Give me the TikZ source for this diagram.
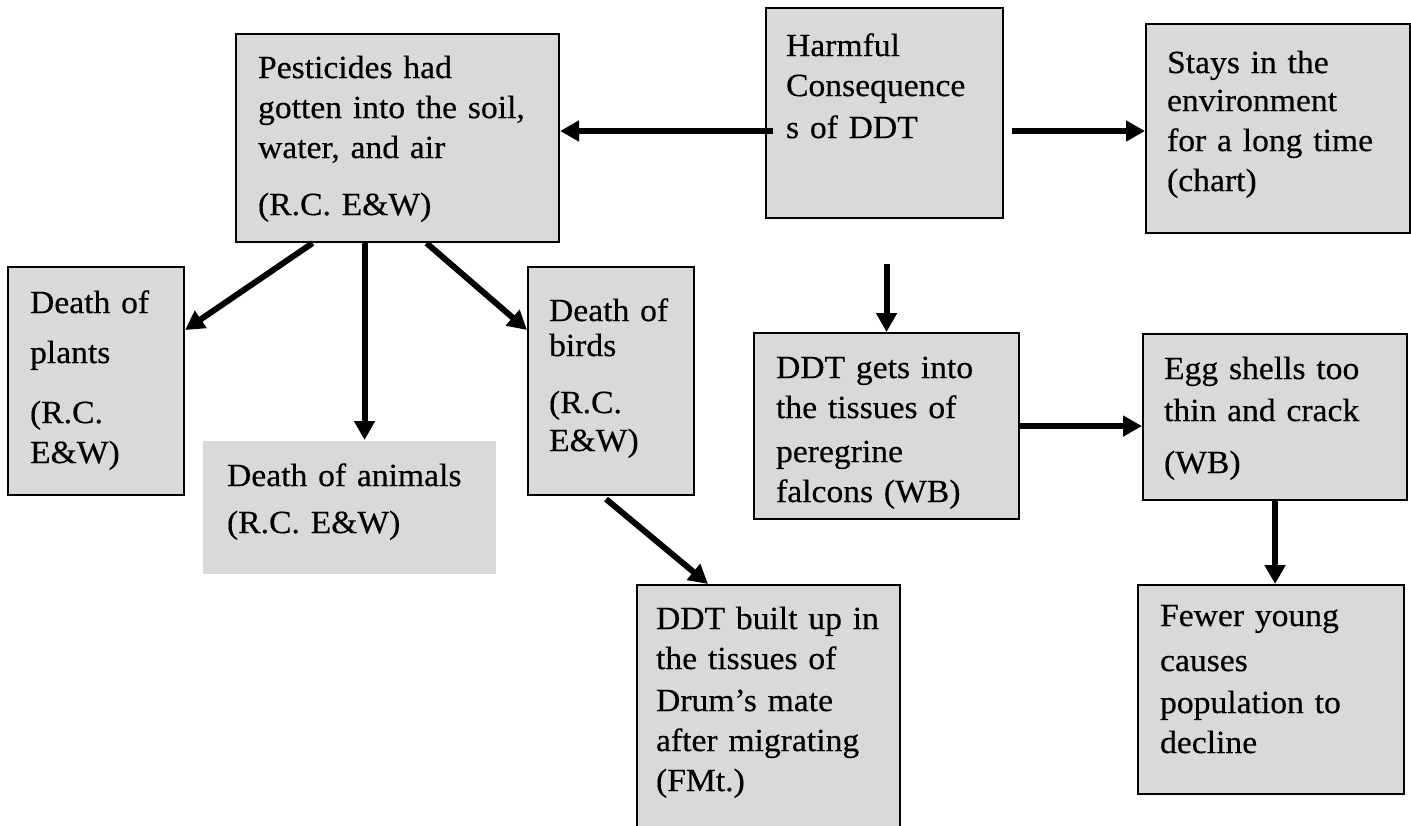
\documentclass[tikz,border=0pt]{standalone}
\usepackage{fontspec}
\setmainfont{Liberation Serif}[FakeStretch=1.04, FakeBold=0.4]
\usetikzlibrary{arrows.meta,calc}

\begin{document}
\begin{tikzpicture}[
    box/.style={draw=black, line width=0.6pt, fill=boxgray, anchor=north west, align=left, inner xsep=0.22cm, inner ysep=0pt, font=\fontsize{9.2pt}{0.4cm}\selectfont},
    arr/.style={line width=1.7pt, -{Triangle[length=0.19cm,width=0.2cm]}},
  ]

\definecolor{boxgray}{RGB}{217,217,217}

\path[use as bounding box, clip] (0,0) rectangle (14.11,-8.25);

% top row
\node[box, text width=2.79cm, text height=0.44cm, text depth=1.64cm] (pest) at (2.35,-0.33) {Pesticides had\\ gotten into the soil,\\ water, and air\\[0.17cm] (R.C. E\&W)};
\node[box, inner xsep=0.20cm, text width=1.97cm, text height=0.48cm, text depth=1.62cm] (harm) at (7.65,-0.07) {Harmful\\ Consequence\\[0.02cm] s of DDT};
\node[box, inner xsep=0.21cm, text width=2.22cm, text height=0.49cm, text depth=1.60cm] (stay) at (11.45,-0.23) {Stays in the\\[-0.02cm] environment\\ for a long time\\ (chart)};

% middle row
\node[box, text width=1.32cm, text height=0.46cm, text depth=1.82cm] (plants) at (0.07,-2.66) {Death of\\[0.1cm] plants\\[0.2cm] (R.C.\\ E\&W)};
\node[box, draw=none, inner xsep=0.24cm, text width=2.45cm, text height=0.45cm, text depth=0.88cm] (anim) at (2.02,-4.40) {Death of animals\\[0.07cm] (R.C. E\&W)};
\node[box, inner xsep=0.21cm, text width=1.24cm, text height=0.54cm, text depth=1.74cm] (birds) at (5.27,-2.66) {Death of\\[-0.05cm] birds\\[0.17cm] (R.C.\\[-0.02cm] E\&W)};
\node[box, text width=2.21cm, text height=0.45cm, text depth=1.41cm] (gets) at (7.53,-3.32) {DDT gets into\\ the tissues of\\[0.04cm] peregrine\\ falcons (WB)};
\node[box, inner xsep=0.21cm, text width=2.22cm, text height=0.45cm, text depth=1.21cm] (egg) at (11.42,-3.33) {Egg shells too\\[0.02cm] thin and crack\\[0.12cm] (WB)};

% bottom row
\node[box, inner xsep=0.19cm, text width=2.25cm, text height=0.44cm, text depth=2.2cm] (built) at (6.36,-5.84) {DDT built up in\\ the tissues of\\[0.02cm] Drum’s mate\\ after migrating\\ (FMt.)};
\node[box, text width=2.22cm, text height=0.41cm, text depth=1.68cm] (fewer) at (11.37,-5.84) {Fewer young\\[0.05cm] causes\\[0.02cm] population to\\ decline};

% arrows
\coordinate (lvl) at ($(harm.north west)+(0.08,-1.24)$);
\draw[arr] (lvl) -- (lvl -| pest.east);
\draw[arr] ($(lvl -| harm.east)+(0.08,0)$) -- (lvl -| stay.west);
\draw[arr] ($(harm.south -| gets.north)+(0,-0.45)$) -- (gets.north);

\coordinate (pdown) at ($(pest.south)+(-0.33,0)$);
\draw[arr] ($(pest.south)+(-0.85,0)$) -- ($(plants.north east)+(0,-0.64)$);
\draw[arr] (pdown) -- (pdown |- anim.north);
\draw[arr] ($(pest.south)+(0.29,0)$) -- ($(birds.north west)+(0,-0.64)$);
\draw[arr] ($(birds.south)+(-0.05,-0.03)$) -- ($(built.north west)+(0.72,0)$);

\draw[arr] (gets.east) -- (gets.east -| egg.west);
\draw[arr] (egg.south) -- (egg.south |- fewer.north);
\end{tikzpicture}
\end{document}
